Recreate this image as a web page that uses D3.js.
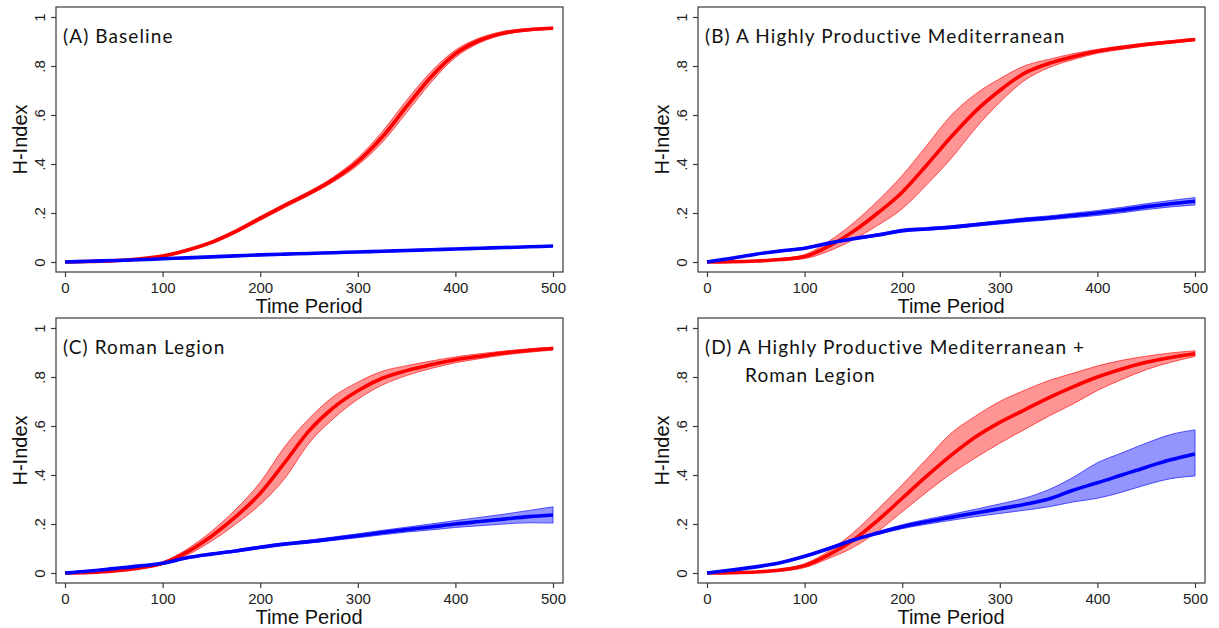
<!DOCTYPE html>
<html>
<head>
<meta charset="utf-8">
<script src="https://cdn.jsdelivr.net/npm/d3@7"></script>
<style>
  body { margin: 0; background: #fff; }
  .tick text { font-family: "Liberation Sans", Arial, sans-serif; font-size: 15px; fill: #222; }
</style>
</head>
<body>
<div id="chart"></div>
<script>
// time steps the series were read at
const time = [0, 25, 50, 75, 100, 125, 150, 175, 200, 225, 250, 275, 300, 325, 350, 375, 400, 425, 450, 475, 500];

const xTicks = [0, 100, 200, 300, 400, 500];
const yTicks = [0, 0.2, 0.4, 0.6, 0.8, 1];
const yTickLabels = ["0", ".2", ".4", ".6", ".8", "1"];

// (A) Baseline
const aRed   = [0, 0.002, 0.005, 0.012, 0.024, 0.048, 0.08, 0.125, 0.178, 0.23, 0.28, 0.337, 0.41, 0.51, 0.635, 0.755, 0.85, 0.905, 0.935, 0.948, 0.954];
const aRedLo = [0, 0.001, 0.003, 0.009, 0.02, 0.043, 0.074, 0.118, 0.17, 0.222, 0.272, 0.327, 0.395, 0.488, 0.61, 0.733, 0.835, 0.895, 0.928, 0.943, 0.95];
const aRedHi = [0, 0.003, 0.007, 0.015, 0.028, 0.053, 0.086, 0.132, 0.186, 0.238, 0.288, 0.347, 0.425, 0.532, 0.66, 0.777, 0.865, 0.915, 0.942, 0.953, 0.958];
const aBlue   = [0, 0.003, 0.006, 0.009, 0.013, 0.017, 0.021, 0.025, 0.029, 0.032, 0.035, 0.038, 0.041, 0.044, 0.047, 0.05, 0.053, 0.056, 0.059, 0.062, 0.065];
const aBlueLo = [0, 0.002, 0.004, 0.007, 0.011, 0.015, 0.019, 0.023, 0.027, 0.03, 0.033, 0.036, 0.039, 0.042, 0.045, 0.048, 0.051, 0.054, 0.057, 0.06, 0.063];
const aBlueHi = [0, 0.004, 0.008, 0.011, 0.015, 0.019, 0.023, 0.027, 0.031, 0.034, 0.037, 0.04, 0.043, 0.046, 0.049, 0.052, 0.055, 0.058, 0.061, 0.064, 0.067];

// (B) A Highly Productive Mediterranean
const bRed   = [0, 0.001, 0.004, 0.01, 0.022, 0.065, 0.125, 0.2, 0.285, 0.395, 0.51, 0.615, 0.7, 0.77, 0.81, 0.838, 0.86, 0.875, 0.888, 0.898, 0.908];
const bRedLo = [0, 0, 0.002, 0.006, 0.014, 0.045, 0.091, 0.15, 0.217, 0.315, 0.422, 0.545, 0.652, 0.74, 0.793, 0.826, 0.852, 0.868, 0.882, 0.893, 0.903];
const bRedHi = [0, 0.002, 0.006, 0.014, 0.03, 0.085, 0.159, 0.25, 0.353, 0.475, 0.598, 0.685, 0.748, 0.8, 0.827, 0.85, 0.868, 0.882, 0.894, 0.903, 0.913];
const bBlue   = [0, 0.015, 0.032, 0.045, 0.056, 0.077, 0.095, 0.11, 0.128, 0.135, 0.142, 0.152, 0.162, 0.172, 0.18, 0.19, 0.2, 0.212, 0.226, 0.238, 0.248];
const bBlueLo = [0, 0.013, 0.029, 0.042, 0.052, 0.073, 0.091, 0.105, 0.123, 0.13, 0.136, 0.146, 0.155, 0.164, 0.172, 0.181, 0.19, 0.201, 0.214, 0.225, 0.233];
const bBlueHi = [0, 0.017, 0.035, 0.048, 0.06, 0.081, 0.099, 0.115, 0.133, 0.14, 0.148, 0.158, 0.169, 0.18, 0.188, 0.199, 0.21, 0.223, 0.238, 0.251, 0.263];

// (C) Roman Legion
const cRed   = [0, 0.002, 0.008, 0.02, 0.04, 0.085, 0.15, 0.23, 0.325, 0.45, 0.58, 0.675, 0.744, 0.795, 0.826, 0.85, 0.87, 0.885, 0.898, 0.908, 0.916];
const cRedLo = [0, 0.001, 0.006, 0.017, 0.035, 0.073, 0.13, 0.2, 0.28, 0.385, 0.53, 0.63, 0.709, 0.767, 0.806, 0.835, 0.858, 0.875, 0.89, 0.901, 0.91];
const cRedHi = [0, 0.003, 0.01, 0.023, 0.045, 0.097, 0.17, 0.26, 0.37, 0.515, 0.63, 0.72, 0.779, 0.823, 0.846, 0.865, 0.882, 0.895, 0.906, 0.915, 0.922];
const cBlue   = [0, 0.008, 0.018, 0.028, 0.04, 0.062, 0.077, 0.09, 0.105, 0.118, 0.128, 0.14, 0.152, 0.165, 0.177, 0.188, 0.2, 0.21, 0.22, 0.23, 0.237];
const cBlueLo = [0, 0.006, 0.016, 0.025, 0.037, 0.059, 0.073, 0.086, 0.1, 0.113, 0.122, 0.133, 0.144, 0.156, 0.167, 0.176, 0.186, 0.193, 0.2, 0.205, 0.204];
const cBlueHi = [0, 0.01, 0.02, 0.031, 0.043, 0.065, 0.081, 0.094, 0.11, 0.123, 0.134, 0.147, 0.16, 0.174, 0.187, 0.2, 0.214, 0.227, 0.24, 0.255, 0.27];

// (D) Mediterranean + Roman Legion
const dRed   = [0, 0.001, 0.004, 0.012, 0.03, 0.075, 0.135, 0.215, 0.305, 0.395, 0.48, 0.555, 0.615, 0.665, 0.715, 0.76, 0.8, 0.833, 0.86, 0.88, 0.895];
const dRedLo = [0, 0, 0.002, 0.008, 0.022, 0.06, 0.105, 0.17, 0.25, 0.33, 0.405, 0.47, 0.53, 0.585, 0.64, 0.69, 0.745, 0.79, 0.83, 0.86, 0.884];
const dRedHi = [0, 0.002, 0.006, 0.016, 0.038, 0.09, 0.165, 0.26, 0.36, 0.465, 0.57, 0.64, 0.7, 0.745, 0.785, 0.815, 0.845, 0.868, 0.885, 0.898, 0.907];
const dBlue   = [0, 0.012, 0.025, 0.042, 0.068, 0.1, 0.135, 0.163, 0.189, 0.209, 0.227, 0.245, 0.262, 0.28, 0.302, 0.338, 0.368, 0.4, 0.432, 0.462, 0.486];
const dBlueLo = [0, 0.011, 0.023, 0.039, 0.064, 0.096, 0.13, 0.157, 0.181, 0.199, 0.215, 0.23, 0.243, 0.256, 0.27, 0.29, 0.305, 0.33, 0.36, 0.385, 0.396];
const dBlueHi = [0, 0.013, 0.027, 0.045, 0.072, 0.104, 0.14, 0.169, 0.197, 0.219, 0.239, 0.26, 0.282, 0.305, 0.34, 0.39, 0.45, 0.49, 0.53, 0.565, 0.584];

const titles = [
  ["(A) Baseline"],
  ["(B) A Highly Productive Mediterranean"],
  ["(C) Roman Legion"],
  ["(D) A Highly Productive Mediterranean +", "Roman Legion"]
];

const width = 1219;
const height = 628;
const frameW = 507;
const frameH = 265;

const panels = [
  { left: 56,  top: 7,   title: titles[0], red: [aRed, aRedLo, aRedHi], blue: [aBlue, aBlueLo, aBlueHi] },
  { left: 698, top: 7,   title: titles[1], red: [bRed, bRedLo, bRedHi], blue: [bBlue, bBlueLo, bBlueHi] },
  { left: 56,  top: 318, title: titles[2], red: [cRed, cRedLo, cRedHi], blue: [cBlue, cBlueLo, cBlueHi] },
  { left: 698, top: 318, title: titles[3], red: [dRed, dRedLo, dRedHi], blue: [dBlue, dBlueLo, dBlueHi] }
];

const svg = d3.select("#chart")
  .append("svg")
  .attr("width", width)
  .attr("height", height);

const x = d3.scaleLinear()
  .domain([0, 500])
  .range([9, 497]);

const y = d3.scaleLinear()
  .domain([0, 1])
  .range([255, 10]);

const toRows = (s) => time.map((t, i) => ({ t: t, m: s[0][i], lo: s[1][i], hi: s[2][i] }));

const line = d3.line()
  .curve(d3.curveMonotoneX)
  .x(d => x(d.t))
  .y(d => y(d.m));

const area = d3.area()
  .curve(d3.curveMonotoneX)
  .x(d => x(d.t))
  .y0(d => y(d.lo))
  .y1(d => y(d.hi));

panels.forEach(p => {
  const g = svg.append("g")
    .attr("transform", `translate(${p.left},${p.top})`);

  const red = toRows(p.red);
  const blue = toRows(p.blue);

  // confidence bands
  g.append("path")
    .datum(red)
    .attr("fill", "#ff0000")
    .attr("fill-opacity", 0.42)
    .attr("stroke", "#ff2a2a")
    .attr("stroke-width", 0.8)
    .attr("d", area);

  g.append("path")
    .datum(blue)
    .attr("fill", "#0000ff")
    .attr("fill-opacity", 0.42)
    .attr("stroke", "#2a2aff")
    .attr("stroke-width", 0.8)
    .attr("d", area);

  g.append("path")
    .datum(red)
    .attr("fill", "none")
    .attr("stroke", "#ff0000")
    .attr("stroke-width", 3.6)
    .attr("d", line);

  g.append("path")
    .datum(blue)
    .attr("fill", "none")
    .attr("stroke", "#0000ff")
    .attr("stroke-width", 3.6)
    .attr("d", line);

  // frame
  g.append("rect")
    .attr("width", frameW)
    .attr("height", frameH)
    .attr("fill", "none")
    .attr("stroke", "#3a3a3a")
    .attr("stroke-width", 1.2);

  const xAxis = g.append("g")
    .attr("transform", `translate(0,${frameH})`)
    .call(d3.axisBottom(x).tickValues(xTicks).tickSize(5).tickPadding(5).tickFormat(d3.format("d")));
  xAxis.select(".domain").remove();
  xAxis.selectAll(".tick line").attr("stroke", "#3a3a3a").attr("stroke-width", 1.2);

  const yAxis = g.append("g")
    .call(d3.axisLeft(y).tickValues(yTicks).tickSize(5).tickFormat((d, i) => yTickLabels[i]));
  yAxis.select(".domain").remove();
  yAxis.selectAll(".tick line").attr("stroke", "#3a3a3a").attr("stroke-width", 1.2);
  yAxis.selectAll(".tick text")
    .attr("x", 0)
    .attr("y", -11)
    .attr("dy", 0)
    .attr("text-anchor", "middle")
    .attr("transform", "rotate(-90)");

  g.append("text")
    .attr("transform", `translate(-29,${(y(0) + y(1)) / 2}) rotate(-90)`)
    .attr("text-anchor", "middle")
    .style("font-family", "Liberation Sans, Arial, sans-serif")
    .style("font-size", "20px")
    .attr("fill", "#111")
    .text("H-Index");

  g.append("text")
    .attr("x", (x(0) + x(500)) / 2)
    .attr("y", frameH + 41)
    .attr("text-anchor", "middle")
    .style("font-family", "Liberation Sans, Arial, sans-serif")
    .style("font-size", "20px")
    .attr("fill", "#111")
    .text("Time Period");

  p.title.forEach((t, i) => {
    g.append("text")
      .attr("x", i === 0 ? 7 : 47)
      .attr("y", 36 + i * 28)
      .style("font-family", "Lato, sans-serif")
      .style("font-size", "19px")
      .style("letter-spacing", "1.1px")
      .attr("fill", "#111")
      .text(t);
  });
});
</script>
</body>
</html>
